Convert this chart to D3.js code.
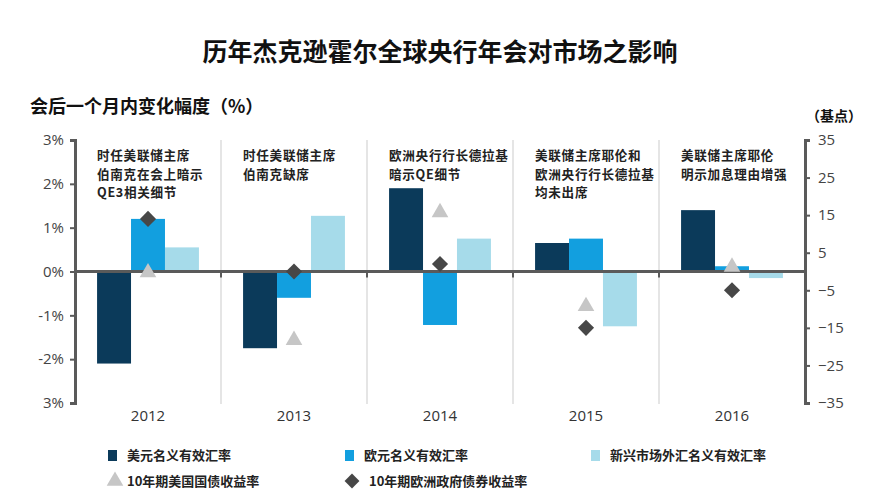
<!DOCTYPE html>
<html>
<head>
<meta charset="utf-8">
<script src="https://cdn.jsdelivr.net/npm/d3@7"></script>
<style>
  body { margin: 0; background: #fff; }
  svg text { font-family: "Noto Sans CJK SC", "Noto Sans", sans-serif; }
</style>
</head>
<body>
<svg id="chart"></svg>
<script>
// data
var years = ["2012", "2013", "2014", "2015", "2016"];
var usdFx = [-2.1, -1.75, 1.9, 0.65, 1.4];      // 美元名义有效汇率 (%)
var eurFx = [1.2, -0.6, -1.22, 0.75, 0.12];     // 欧元名义有效汇率 (%)
var emFx = [0.55, 1.27, 0.75, -1.25, -0.15];    // 新兴市场外汇名义有效汇率 (%)
var usYield = [0, -18, 16, -9, 1.5];            // 10年期美国国债收益率 (基点)
var euYield = [14, 0, 2, -15, -5];              // 10年期欧洲政府债券收益率 (基点)
var leftTicks = [3, 2, 1, 0, -1, -2, -3];
var leftTickLabels = ["3%", "2%", "1%", "0%", "-1%", "-2%", "3%"];
var rightTicks = [35, 25, 15, 5, -5, -15, -25, -35];
var notes = [
    ["时任美联储主席", "伯南克在会上暗示", "QE3相关细节"],
    ["时任美联储主席", "伯南克缺席"],
    ["欧洲央行行长德拉基", "暗示QE细节"],
    ["美联储主席耶伦和", "欧洲央行行长德拉基", "均未出席"],
    ["美联储主席耶伦", "明示加息理由增强"]
];
var barSeries = ["美元名义有效汇率", "欧元名义有效汇率", "新兴市场外汇名义有效汇率"];
var pointSeries = ["10年期美国国债收益率", "10年期欧洲政府债券收益率"];

const width = 870, height = 490;
const plotL = 75, plotR = 805, plotT = 140, plotB = 403;
const colors = ["#0b3a5a", "#129fdf", "#a6dbea"];
const triColor = "#c6c6c6", diaColor = "#474747", axisColor = "#5a5a5a";

var svg = d3.select('#chart').attr('width', width).attr('height', height);

var x = d3.scaleBand().domain(years).range([plotL, plotR]);
var xInner = d3.scaleBand().domain([0, 1, 2])
    .range([0, x.bandwidth()]).paddingOuter(0.65);
var yL = d3.scaleLinear().domain([-3, 3]).range([plotB, plotT]);
var yR = d3.scaleLinear().domain([-35, 35]).range([plotB, plotT]);

// title
svg.append('text').attr('x', 440).attr('y', 61).attr('text-anchor', 'middle')
    .style('font-size', '25px').style('font-weight', 'bold').attr('fill', '#111')
    .text('历年杰克逊霍尔全球央行年会对市场之影响');
svg.append('text').attr('x', 30).attr('y', 113)
    .style('font-size', '18px').style('font-weight', 'bold').attr('fill', '#111')
    .text('会后一个月内变化幅度（%）');
svg.append('text').attr('x', 862).attr('y', 121).attr('text-anchor', 'end')
    .style('font-size', '14px').style('font-weight', 'bold').attr('fill', '#111')
    .text('（基点）');

// group separators
svg.selectAll('.sep').data(years.slice(1)).enter().append('line')
    .attr('x1', d => x(d)).attr('x2', d => x(d))
    .attr('y1', plotT).attr('y2', plotB + 1)
    .attr('stroke', '#dcdcdc').attr('stroke-width', 1.5);

// bars
var groups = svg.selectAll('.grp').data(years).enter().append('g')
    .attr('transform', d => `translate(${x(d)},0)`);
[usdFx, eurFx, emFx].forEach((vals, s) => {
    groups.append('rect')
        .attr('x', xInner(s))
        .attr('width', xInner.bandwidth())
        .attr('y', (d, i) => Math.min(yL(vals[i]), yL(0)))
        .attr('height', (d, i) => Math.abs(yL(vals[i]) - yL(0)))
        .attr('fill', colors[s]);
});

// zero line + ticks
svg.append('line').attr('x1', plotL).attr('x2', plotR)
    .attr('y1', yL(0)).attr('y2', yL(0))
    .attr('stroke', axisColor).attr('stroke-width', 3);
svg.selectAll('.zt').data(years.slice(1)).enter().append('line')
    .attr('x1', d => x(d)).attr('x2', d => x(d))
    .attr('y1', yL(0)).attr('y2', yL(0) + 6)
    .attr('stroke', axisColor).attr('stroke-width', 2);

// markers
var tri = d3.symbol().type(d3.symbolTriangle).size(120);
var dia = d3.symbol().type(d3.symbolSquare).size(130);
svg.selectAll('.tri').data(years).enter().append('path')
    .attr('d', tri)
    .attr('transform', (d, i) => `translate(${x(d) + x.bandwidth() / 2},${yR(usYield[i]) + 1})`)
    .attr('fill', triColor);
svg.selectAll('.dia').data(years).enter().append('path')
    .attr('d', dia)
    .attr('transform', (d, i) => `translate(${x(d) + x.bandwidth() / 2},${yR(euYield[i])}) rotate(45)`)
    .attr('fill', diaColor);

// left axis
var axL = svg.append('g').attr('transform', `translate(${plotL},0)`)
    .call(d3.axisLeft(yL).tickValues(leftTicks).tickSize(5)
        .tickFormat((d, i) => leftTickLabels[i]));
axL.select('.domain').attr('stroke', axisColor).attr('stroke-width', 3);
axL.selectAll('.tick line').attr('stroke', axisColor).attr('stroke-width', 2);
axL.selectAll('.tick text').attr('fill', '#444').attr('x', -11)
    .style('font-size', '15px').style('font-family', '"Open Sans", sans-serif');

// right axis
var axR = svg.append('g').attr('transform', `translate(${plotR},0)`)
    .call(d3.axisRight(yR).tickValues(rightTicks).tickSize(5));
axR.select('.domain').attr('stroke', axisColor).attr('stroke-width', 3);
axR.selectAll('.tick line').attr('stroke', axisColor).attr('stroke-width', 2);
axR.selectAll('.tick text').attr('fill', '#444').attr('x', 13)
    .style('font-size', '15px').style('font-family', '"Open Sans", sans-serif');

// year labels
svg.selectAll('.yr').data(years).enter().append('text')
    .attr('x', d => x(d) + x.bandwidth() / 2).attr('y', 421)
    .attr('text-anchor', 'middle').attr('fill', '#333')
    .style('font-size', '15px').style('font-family', '"Open Sans", sans-serif')
    .text(d => d);

// annotations, one text per line
notes.forEach((lines, i) => {
    lines.forEach((ln, j) => {
        svg.append('text').attr('x', x(years[i]) + 22).attr('y', 160 + j * 18.5)
            .style('font-size', '12.6px').style('font-weight', 'bold')
            .style('letter-spacing', '0.7px').attr('fill', '#222')
            .text(ln);
    });
});

// legend
var legX = [108, 345, 591];
barSeries.forEach((name, i) => {
    svg.append('rect').attr('x', legX[i]).attr('y', 450).attr('width', 9).attr('height', 11)
        .attr('fill', colors[i]);
    svg.append('text').attr('x', legX[i] + 19).attr('y', 460)
        .style('font-size', '13px').style('font-weight', 'bold').attr('fill', '#222').text(name);
});
svg.append('path').attr('d', d3.symbol().type(d3.symbolTriangle).size(120))
    .attr('transform', 'translate(115,481)').attr('fill', triColor);
svg.append('text').attr('x', 127).attr('y', 486)
    .style('font-size', '13px').style('font-weight', 'bold').attr('fill', '#222').text(pointSeries[0]);
svg.append('path').attr('d', d3.symbol().type(d3.symbolSquare).size(110))
    .attr('transform', 'translate(352,481) rotate(45)').attr('fill', diaColor);
svg.append('text').attr('x', 369).attr('y', 486)
    .style('font-size', '13px').style('font-weight', 'bold').attr('fill', '#222').text(pointSeries[1]);
</script>
</body>
</html>
